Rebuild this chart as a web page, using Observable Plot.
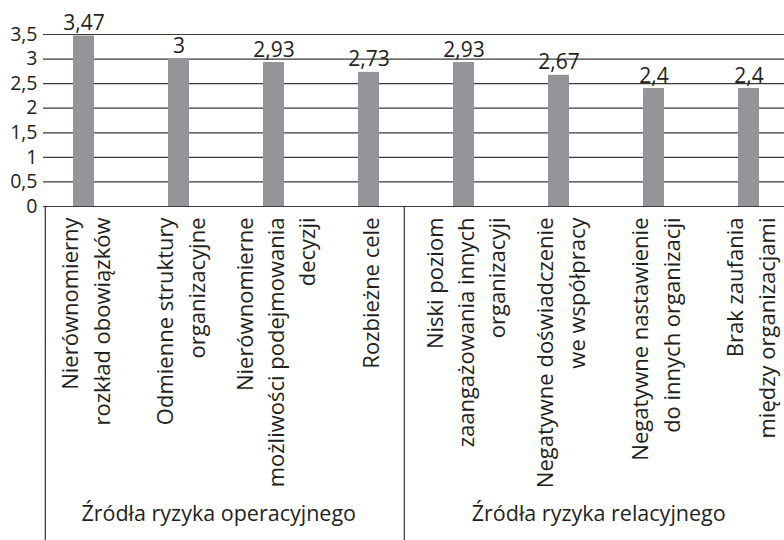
<!DOCTYPE html>
<html>
<head>
<meta charset="utf-8">
<script src="https://cdn.jsdelivr.net/npm/d3@7"></script>
<script src="https://cdn.jsdelivr.net/npm/@observablehq/plot@0.6"></script>
<style>
  html, body { margin: 0; padding: 0; background: #fff; }
  #chart svg { display: block; }
</style>
</head>
<body>
<div id="chart"></div>
<script>
// ---- data ----
const categories = [
  "Nierównomierny\nrozkład obowiązków",
  "Odmienne struktury\norganizacyjne",
  "Nierównomierne\nmożliwości podejmowania\ndecyzji",
  "Rozbieżne cele",
  "Niski poziom\nzaangażowania innych\norganizacyji",
  "Negatywne doświadczenie\nwe współpracy",
  "Negatywne nastawienie\ndo innych organizacji",
  "Brak zaufania\nmiędzy organizacjami"
];
const values = [3.47, 3, 2.93, 2.73, 2.93, 2.67, 2.4, 2.4];
const groups = ["Źródła ryzyka operacyjnego", "Źródła ryzyka relacyjnego"];
const groupOf = [0, 0, 0, 0, 1, 1, 1, 1];
const yTicks = [0, 0.5, 1, 1.5, 2, 2.5, 3, 3.5];

const rows = categories.map((c, i) => ({cat: c, value: values[i], group: groups[groupOf[i]]}));
const fmt = d => String(d).replace(".", ",");

// layout constants (pixels)
const W = 784, H = 540, mTop = 34, mBottom = 334, mLeft = 43;
const xRange = [34, 797];
const step = (xRange[1] - xRange[0]) / categories.length;
const ink = "#231f20";
const font = "'Open Sans', sans-serif";

const firstOfGroup = groups.map((g, gi) => categories[groupOf.indexOf(gi)]);
const secondOfGroup = groups.map((g, gi) => categories[groupOf.indexOf(gi) + 1]);
const groupRows = groups.map((g, gi) => ({label: g, anchor: secondOfGroup[gi]}));

const chart = Plot.plot({
  width: W,
  height: H,
  marginTop: mTop,
  marginBottom: mBottom,
  marginLeft: mLeft,
  marginRight: 0,
  style: {fontFamily: font, color: ink, background: "#fff"},
  x: {type: "band", domain: categories, range: xRange, paddingInner: 0.78, paddingOuter: 0.39, axis: null},
  y: {domain: [0, 3.5], axis: null},
  marks: [
    Plot.ruleY(yTicks, {stroke: "#3a3a3a", strokeWidth: 1.2}),
    Plot.axisY(yTicks, {label: null, tickSize: 0, tickPadding: 6, tickFormat: fmt, fontSize: 19.5, fill: ink, anchor: "left"}),
    Plot.barY(rows, {x: "cat", y: "value", fill: "#939598"}),
    Plot.text(rows, {x: "cat", y: "value", text: d => fmt(d.value), lineAnchor: "bottom", dy: -6, fontSize: 21, fill: ink}),
    Plot.text(rows, {x: "cat", y: 0, text: "cat", rotate: -90, textAnchor: "end", lineAnchor: "middle", dy: 11, fontSize: 22, lineHeight: 1.42, fill: ink}),
    // table lines below the axis
    Plot.ruleX([firstOfGroup[0]], {x: d => d, y1: 0, y2: -7, dx: 43 - (xRange[0] + step / 2), stroke: "#333", strokeWidth: 1.2}),
    Plot.ruleX([firstOfGroup[1]], {x: d => d, y1: 0, y2: -7, dx: -step / 2 - 12, stroke: "#333", strokeWidth: 1.2}),
    // group labels
    Plot.text(groupRows, {x: "anchor", y: 0, text: "label", dx: step / 2 - 8, dy: 314, lineAnchor: "bottom", fontSize: 21.5, fill: ink})
  ]
});

document.getElementById("chart").appendChild(chart);
</script>
</body>
</html>
